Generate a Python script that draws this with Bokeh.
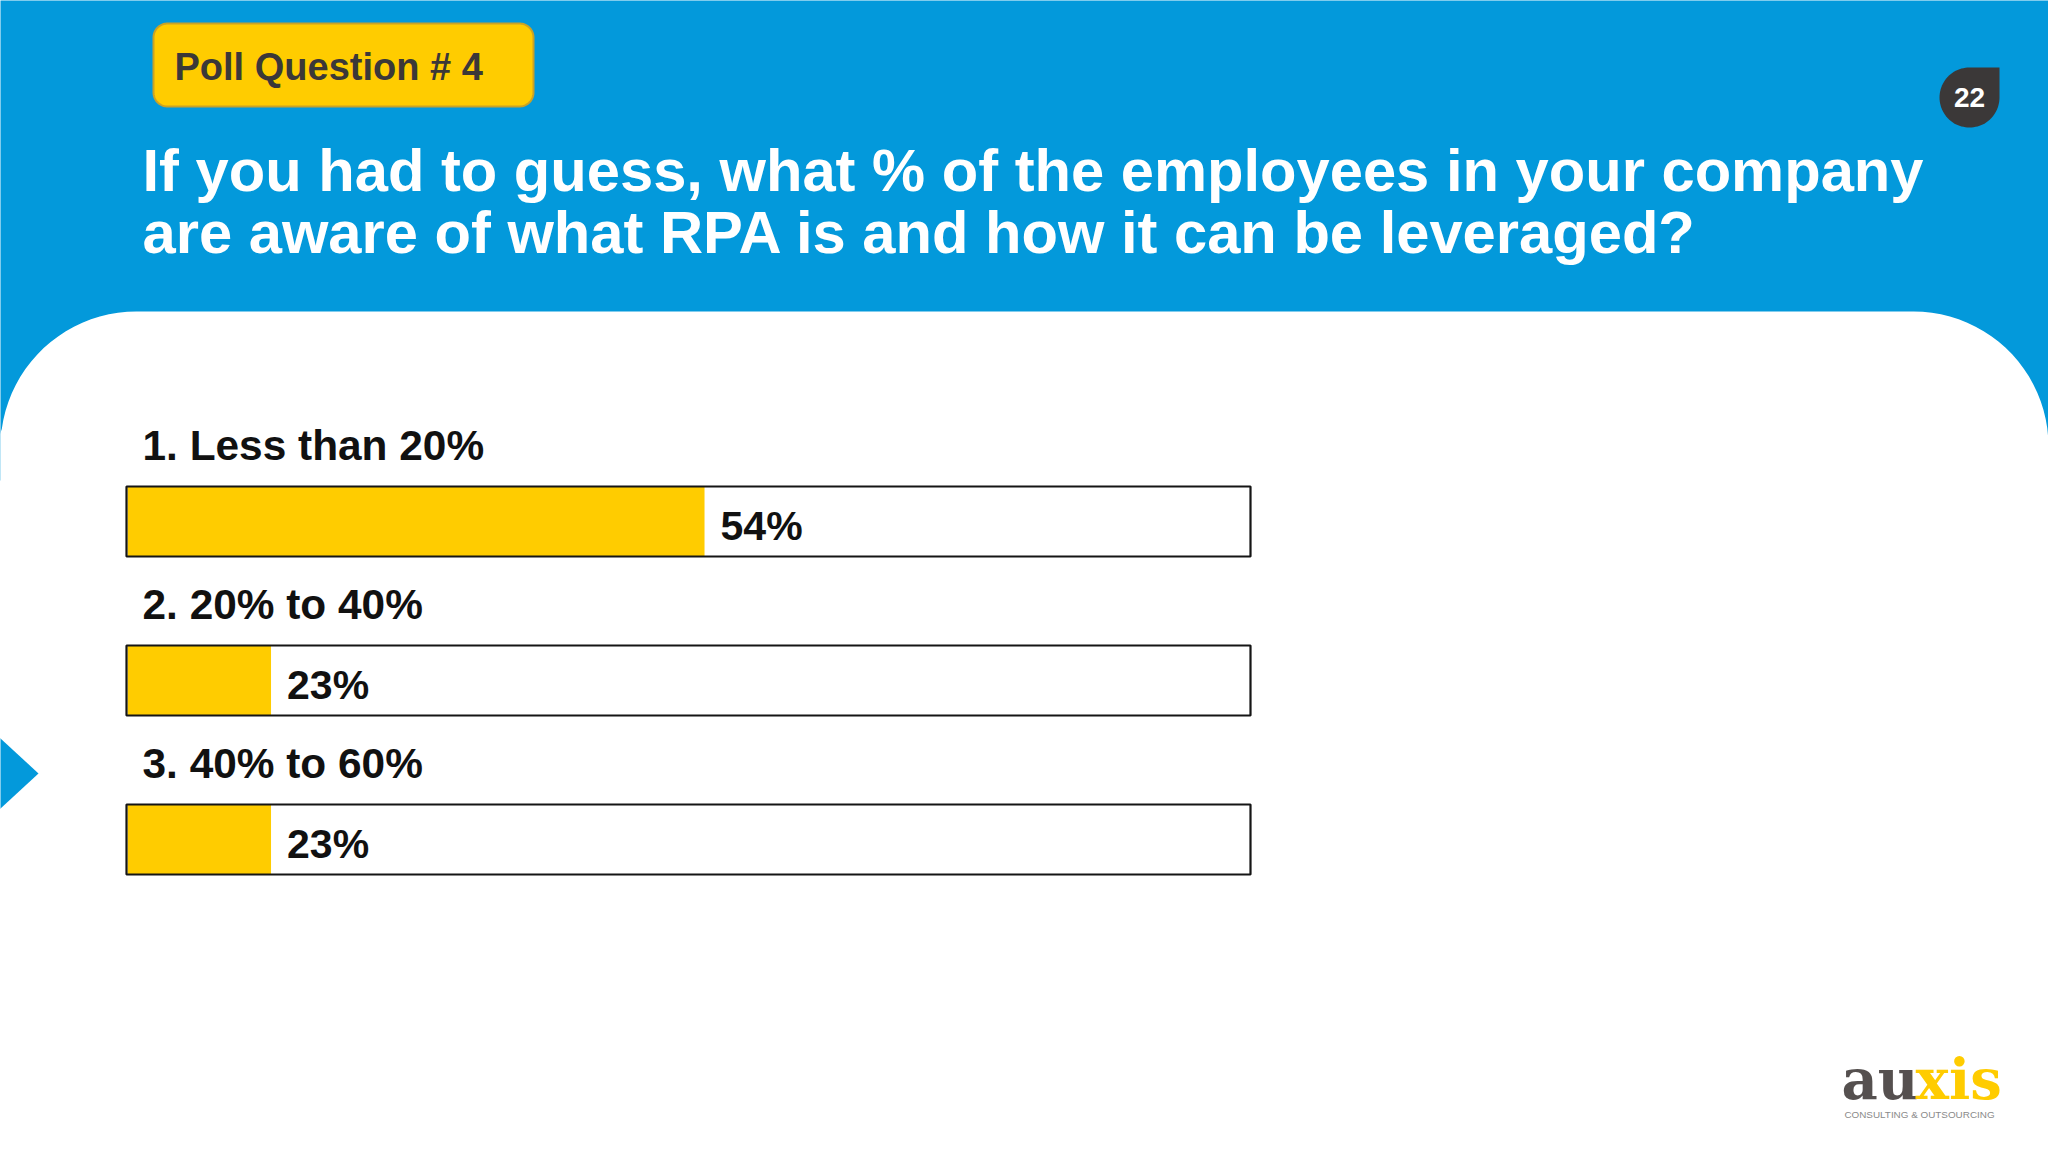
import numpy as np
from bokeh.plotting import figure
from bokeh.models import Range1d
from bokeh.core.properties import value
from bokeh.embed import file_html
from bokeh.resources import INLINE

# ---------------- data ----------------
options = ["1. Less than 20%", "2. 20% to 40%", "3. 40% to 60%"]
votes_pct = [54, 23, 23]
value_labels = ["54%", "23%", "23%"]

badge_text = "Poll Question # 4"
title_lines = ["If you had to guess, what % of the employees in your company",
               "are aware of what RPA is and how it can be leveraged?"]
page_number = "22"

# ---------------- style ----------------
BLUE = "#0399DB"
YELLOW = "#FFCC00"
DARK = "#3B3838"
FONT = value("Liberation Sans")

W, H = 2048, 1152
p = figure(width=W, height=H, x_range=Range1d(0, 2048), y_range=Range1d(1152, 0),
           x_axis_type=None, y_axis_type=None, output_backend="svg",
           toolbar_location=None, min_border=0, min_border_left=0, min_border_right=0,
           min_border_top=0, min_border_bottom=0)
p.grid.visible = False
p.outline_line_color = None
p.background_fill_color = "white"
p.border_fill_color = BLUE
# percentage scale used by the bars
p.extra_x_ranges = {"pct": Range1d(3.654, 150.11)}
PCT_FLOOR = 12.74


def rounded_poly(x0, y0, x1, y1, r_tl, r_tr, r_br, r_bl, n=24):
    xs, ys = [], []

    def arc(cx, cy, r, a0, a1):
        if r == 0:
            xs.append(cx); ys.append(cy); return
        t = np.radians(np.linspace(a0, a1, n))
        xs.extend(cx + r * np.cos(t)); ys.extend(cy + r * np.sin(t))

    arc(x0 + r_tl, y0 + r_tl, r_tl, 180, 270) if r_tl else arc(x0, y0, 0, 0, 0)
    arc(x1 - r_tr, y0 + r_tr, r_tr, 270, 360) if r_tr else arc(x1, y0, 0, 0, 0)
    arc(x1 - r_br, y1 - r_br, r_br, 0, 90) if r_br else arc(x1, y1, 0, 0, 0)
    arc(x0 + r_bl, y1 - r_bl, r_bl, 90, 180) if r_bl else arc(x0, y1, 0, 0, 0)
    return list(xs), list(ys)


# header background
p.quad(left=-20, right=2070, top=-20, bottom=480, color=BLUE, line_color=None)
px, py = rounded_poly(0, 311, 2048, 1172, 136, 135, 0, 0)
px = [-2 if v <= 0.5 else v for v in px]
p.patch(px, py, color="white", line_color=None)

# left arrow
p.patch([-2, 38, -2], [736, 773, 810], color=BLUE, line_color=None)

# poll badge
bx, by = rounded_poly(153, 23, 533, 106, 14, 14, 14, 14)
p.patch(bx, by, fill_color=YELLOW, line_color="#C9A227", line_width=2)
p.text(x=[174], y=[66], text=[badge_text], text_font=FONT, text_font_style="bold",
       text_font_size="38px", text_color=DARK, text_baseline="middle")

# page number
nx, ny = rounded_poly(1939, 67, 1999, 127, 30, 0, 30, 30)
p.patch(nx, ny, color=DARK, line_color=None)
p.text(x=[1969], y=[97], text=[page_number], text_font=FONT, text_font_style="bold",
       text_font_size="28px", text_color="white", text_align="center",
       text_baseline="middle")

# title
p.text(x=[142, 142], y=[170, 232], text=title_lines, text_font=FONT,
       text_font_style="bold", text_font_size="59.7px", text_color="white",
       text_baseline="middle")

# bars
n = len(options)
tops = [486 + i * 159 for i in range(n)]
bottoms = [t + 70 for t in tops]
p.quad(left=[PCT_FLOOR] * n, right=votes_pct, top=tops, bottom=bottoms,
       x_range_name="pct", fill_color=YELLOW, line_color=None)
p.quad(left=[126] * n, right=[1250] * n, top=tops, bottom=bottoms,
       fill_color=None, line_color="#151515", line_width=2.2)
p.text(x=votes_pct, y=[t + 39.5 for t in tops], text=value_labels, x_range_name="pct",
       x_offset=16, text_font=FONT, text_font_style="bold", text_font_size="41px",
       text_color="#111111", text_baseline="middle")
p.text(x=[142] * n, y=[t - 41 for t in tops], text=options, text_font=FONT,
       text_font_style="bold", text_font_size="42.4px", text_color="#111111",
       text_baseline="middle")

# logo
p.text(x=[1918], y=[1078], text=["au"], text_font=value("DejaVu Serif"),
       text_font_style="bold", text_font_size="56px", text_color="#55504F",
       text_align="right", text_baseline="middle")
p.text(x=[1915], y=[1078], text=["xis"], text_font=value("DejaVu Serif"),
       text_font_style="bold", text_font_size="56px", text_color=YELLOW,
       text_align="left", text_baseline="middle")
p.text(x=[1919], y=[1114], text=["CONSULTING & OUTSOURCING"], text_font=FONT,
       text_font_size="9.9px", text_color="#8A8A8A", text_align="center",
       text_baseline="middle")

open("out.html", "w").write(file_html(p, INLINE))
